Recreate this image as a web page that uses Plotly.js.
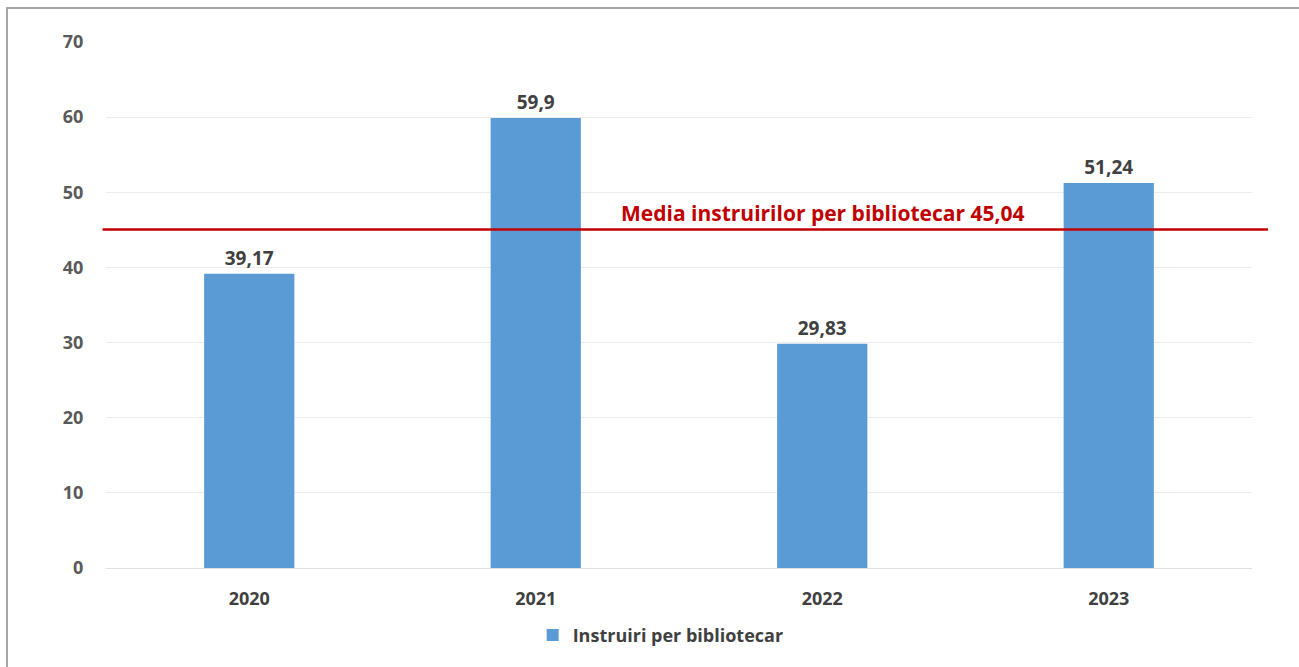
<!DOCTYPE html>
<html>
<head>
<meta charset="utf-8">
<script src="https://cdn.plot.ly/plotly-3.0.1.min.js"></script>
<style>
html,body{margin:0;padding:0;background:#fff;}
#chart{width:1299px;height:667px;position:absolute;left:0;top:0;}
#frame{position:absolute;left:6px;top:7px;width:1400px;height:800px;border-left:2px solid #a6a6a6;border-top:2px solid #a6a6a6;pointer-events:none;}
</style>
</head>
<body>
<div id="chart"></div>
<div id="frame"></div>
<script>
const categories = ['2020', '2021', '2022', '2023'];
const values = [39.17, 59.9, 29.83, 51.24];
const seriesName = 'Instruiri per bibliotecar';
const averageValue = 45.04;
const averageLabel = 'Media instruirilor per bibliotecar 45,04';
const yTicks = [0, 10, 20, 30, 40, 50, 60, 70];

const labels = values.map(v => String(v).replace('.', ','));
const FONT = 'Open Sans, sans-serif';

const trace = {
  type: 'bar',
  x: categories,
  y: values,
  name: seriesName,
  marker: {color: '#5B9BD5'},
  width: 0.315,
  text: labels,
  textposition: 'outside',
  cliponaxis: false,
  textfont: {family: FONT, size: 19, color: '#404040', weight: 'bold'},
  hoverinfo: 'x+y'
};

const layout = {
  width: 1299, height: 667,
  margin: {l: 106, r: 47, t: 42, b: 99},
  paper_bgcolor: '#ffffff',
  plot_bgcolor: '#ffffff',
  showlegend: true,
  legend: {
    orientation: 'h', x: 0.484, xanchor: 'center', y: -0.128, yanchor: 'middle',
    font: {family: FONT, size: 18, color: '#404040', weight: 'bold'}
  },
  xaxis: {
    type: 'category',
    range: [-0.5, categories.length - 0.5],
    autorange: false,
    tickfont: {family: FONT, size: 18, color: '#404040', weight: 'bold'},
    showgrid: false, zeroline: false, showline: false,
    ticks: 'outside', ticklen: 14, tickcolor: 'rgba(0,0,0,0)'
  },
  yaxis: {
    range: [0, 70],
    autorange: false,
    tickvals: yTicks,
    tickfont: {family: FONT, size: 18, color: '#595959', weight: 'bold'},
    gridcolor: '#ececec', gridwidth: 1,
    zeroline: true, zerolinecolor: '#e0e0e0', zerolinewidth: 1,
    showline: false,
    ticks: 'outside', ticklen: 18, tickcolor: 'rgba(0,0,0,0)'
  },
  shapes: [{
    type: 'line', xref: 'paper', yref: 'y',
    x0: -0.003, x1: 1.014, y0: averageValue, y1: averageValue,
    line: {color: '#C00000', width: 2.5}
  }],
  annotations: [{
    xref: 'x', yref: 'y', x: 2, y: averageValue,
    yanchor: 'bottom', xanchor: 'center', yshift: 1,
    text: averageLabel, showarrow: false,
    font: {family: FONT, size: 21, color: '#C00000', weight: 'bold'}
  }]
};

Plotly.newPlot('chart', [trace], layout, {displayModeBar: false, staticPlot: true});
</script>
</body>
</html>
